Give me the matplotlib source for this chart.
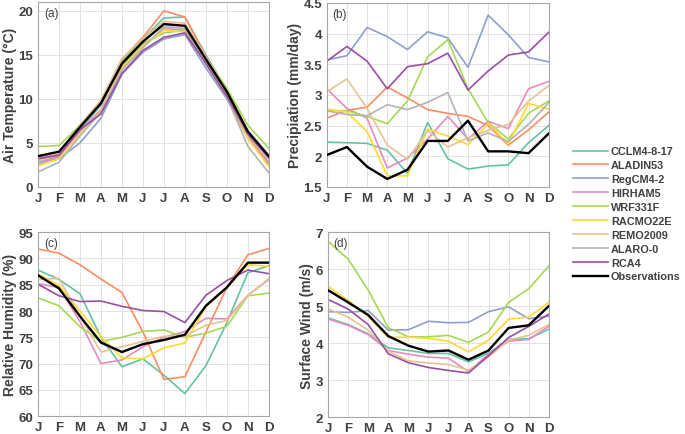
import matplotlib
matplotlib.use('Agg')
import matplotlib.pyplot as plt
import numpy as np

plt.rcParams['font.family'] = ['Liberation Sans', 'DejaVu Sans']

months = ['J', 'F', 'M', 'A', 'M', 'J', 'J', 'A', 'S', 'O', 'N', 'D']
models = ['CCLM4-8-17', 'ALADIN53', 'RegCM4-2', 'HIRHAM5', 'WRF331F',
          'RACMO22E', 'REMO2009', 'ALARO-0', 'RCA4', 'Observations']
colors = ['#66c2a5', '#fc8d62', '#8da0cb', '#e78ac3', '#a6d854',
          '#ffd92f', '#e5c494', '#b3b3b3', '#984ea3', 'black']

# (a) air temperature
temp = {
    'CCLM4-8-17': [3.0, 3.4, 6.5, 9.3, 14.2, 16.8, 19.2, 19.3, 15.0, 11.0, 6.2, 3.2],
    'ALADIN53': [3.3, 3.7, 7.0, 9.8, 14.5, 17.0, 20.0, 19.3, 14.8, 10.8, 6.0, 3.0],
    'RegCM4-2': [2.8, 3.2, 5.0, 7.8, 12.8, 15.3, 16.8, 17.3, 13.5, 10.0, 5.5, 2.8],
    'HIRHAM5': [2.5, 3.5, 6.3, 8.8, 13.5, 16.0, 18.0, 17.8, 14.0, 10.3, 5.8, 2.5],
    'WRF331F': [4.6, 4.7, 7.0, 9.6, 13.8, 16.3, 17.5, 17.8, 14.6, 11.2, 7.0, 4.4],
    'RACMO22E': [2.4, 3.2, 6.0, 8.6, 13.5, 16.0, 17.8, 17.6, 14.2, 10.5, 5.5, 2.3],
    'REMO2009': [3.0, 3.6, 7.0, 9.8, 14.6, 16.8, 18.8, 18.6, 14.8, 10.8, 6.0, 3.0],
    'ALARO-0': [1.7, 2.8, 5.8, 8.5, 13.3, 15.8, 18.2, 18.0, 14.0, 10.2, 4.6, 1.6],
    'RCA4': [3.2, 3.6, 6.5, 8.3, 12.9, 15.5, 17.0, 17.5, 14.0, 10.3, 6.0, 3.3],
    'Observations': [3.5, 4.0, 6.8, 9.5, 14.0, 16.5, 18.5, 18.3, 14.5, 10.8, 6.3, 3.5],
}

# (b) precipitation
prec = {
    'CCLM4-8-17': [2.23, 2.22, 2.21, 2.10, 1.72, 2.55, 1.96, 1.79, 1.84, 1.86, 2.22, 2.50],
    'ALADIN53': [2.62, 2.75, 2.80, 3.13, 2.95, 2.76, 2.70, 2.65, 2.50, 2.18, 2.43, 2.72],
    'RegCM4-2': [3.57, 3.64, 4.10, 3.95, 3.74, 4.03, 3.93, 3.45, 4.30, 3.98, 3.61, 3.54],
    'HIRHAM5': [3.10, 2.78, 2.62, 1.81, 1.97, 2.28, 2.65, 2.28, 2.57, 2.45, 3.10, 3.22],
    'WRF331F': [2.75, 2.74, 2.65, 2.53, 2.90, 3.62, 3.90, 3.10, 2.55, 2.28, 2.70, 2.90],
    'RACMO22E': [2.77, 2.72, 2.40, 1.68, 1.68, 2.44, 2.33, 2.19, 2.53, 2.20, 2.86, 2.77],
    'REMO2009': [3.05, 3.26, 2.78, 2.18, 1.95, 2.42, 2.15, 2.30, 2.42, 2.52, 2.90, 3.15],
    'ALARO-0': [2.74, 2.68, 2.66, 2.84, 2.76, 2.88, 3.04, 2.25, 2.38, 2.24, 2.52, 2.87],
    'RCA4': [3.55, 3.79, 3.55, 3.10, 3.46, 3.51, 3.68, 3.08, 3.39, 3.65, 3.70, 4.02],
    'Observations': [2.02, 2.15, 1.83, 1.63, 1.78, 2.25, 2.25, 2.58, 2.08, 2.08, 2.05, 2.37],
}

# (c) relative humidity
rhum = {
    'CCLM4-8-17': [87.8, 86.0, 83.3, 75.0, 69.4, 70.9, 67.8, 64.3, 69.6, 77.8, 87.3, 88.6],
    'ALADIN53': [91.8, 91.0, 88.8, 86.1, 83.5, 76.0, 67.0, 67.5, 76.0, 84.5, 90.7, 91.9],
    'HIRHAM5': [85.2, 84.5, 78.0, 70.0, 70.7, 73.2, 75.0, 76.1, 78.6, 78.5, 83.0, 86.0],
    'WRF331F': [82.5, 81.0, 77.0, 74.2, 75.0, 76.1, 76.4, 75.0, 75.8, 77.1, 82.9, 83.4],
    'RACMO22E': [87.0, 84.9, 80.0, 75.1, 71.1, 70.9, 73.0, 73.9, 80.8, 84.5, 88.8, 88.5],
    'REMO2009': [86.0, 86.2, 79.0, 72.2, 73.2, 74.2, 75.2, 75.2, 77.3, 78.2, 82.9, 86.2],
    'RCA4': [85.1, 82.9, 81.8, 81.9, 80.9, 80.1, 79.9, 77.8, 83.0, 85.8, 87.8, 87.1],
    'Observations': [86.8, 84.3, 79.0, 74.0, 72.2, 73.7, 74.5, 75.5, 81.0, 84.5, 89.2, 89.2],
}

# (d) surface wind
wind = {
    'CCLM4-8-17': [4.68, 4.50, 4.25, 3.87, 3.80, 3.72, 3.72, 3.49, 3.73, 4.10, 4.12, 4.37],
    'RegCM4-2': [4.85, 4.83, 4.88, 4.35, 4.36, 4.59, 4.55, 4.56, 4.85, 4.98, 4.66, 4.73],
    'HIRHAM5': [4.65, 4.48, 4.23, 3.80, 3.70, 3.62, 3.59, 3.23, 3.70, 4.05, 4.10, 4.45],
    'WRF331F': [6.75, 6.27, 5.43, 4.42, 4.17, 4.17, 4.21, 4.02, 4.30, 5.10, 5.47, 6.08],
    'RACMO22E': [5.53, 5.15, 4.73, 4.15, 4.16, 4.13, 4.05, 3.76, 4.08, 4.65, 4.70, 5.10],
    'REMO2009': [4.93, 4.70, 4.35, 3.78, 3.52, 3.46, 3.42, 3.27, 3.62, 4.08, 4.21, 4.50],
    'RCA4': [5.18, 4.92, 4.50, 3.71, 3.47, 3.34, 3.26, 3.19, 3.66, 4.15, 4.45, 4.78],
    'Observations': [5.43, 5.10, 4.76, 4.19, 3.93, 3.77, 3.80, 3.55, 3.80, 4.41, 4.48, 5.00],
}

panels = [
    (temp, 'Air Temperature (°C)', (0, 21), [0, 5, 10, 15, 20], '(a)', [0.0555, 0.568, 0.337, 0.425]),
    (prec, 'Precipiation (mm/day)', (1.5, 4.5), [1.5, 2, 2.5, 3, 3.5, 4, 4.5], '(b)', [0.477, 0.568, 0.324, 0.423]),
    (rhum, 'Relative Humidity (%)', (60, 95), [60, 65, 70, 75, 80, 85, 90, 95], '(c)', [0.0555, 0.041, 0.337, 0.423]),
    (wind, 'Surface Wind (m/s)', (2, 7), [2, 3, 4, 5, 6, 7], '(d)', [0.479, 0.039, 0.322, 0.425]),
]

fig = plt.figure(figsize=(6.85, 4.35), dpi=100)
x = np.arange(12)
tc = '#404040'
for data, ylab, ylim, yt, tag, rect in panels:
    ax = fig.add_axes(rect)
    for name, col in zip(models, colors):
        if name in data:
            lw = 1.7 if name == 'Observations' else 1.2
            ax.plot(x, data[name], color=col, lw=lw, zorder=3 if name == 'Observations' else 2)
    ax.set_xlim(0, 11)
    ax.set_ylim(*ylim)
    ax.set_yticks(yt)
    ax.set_yticklabels([('%g' % v) for v in yt])
    ax.set_xticks(x)
    ax.set_xticklabels(months)
    ax.grid(True, color='#e3e3e3', lw=0.7)
    ax.tick_params(length=0, labelsize=9.5, colors=tc, pad=3.5)
    for lab in ax.get_xticklabels() + ax.get_yticklabels():
        lab.set_fontweight('bold')
    for s in ax.spines.values():
        s.set_color('#a6a6a6')
        s.set_linewidth(0.8)
    ax.set_ylabel(ylab, fontsize=10, fontweight='bold', color=tc, labelpad=1)
    ax.text(0.025, 0.975, tag, transform=ax.transAxes, ha='left', va='top',
            fontsize=8.5, color=tc)

handles = [plt.Line2D([], [], color=c, lw=1.7 if n == 'Observations' else 1.2)
           for n, c in zip(models, colors)]
leg = fig.legend(handles, models, loc='center left', bbox_to_anchor=(0.829, 0.506),
                 frameon=False, prop={'weight': 'bold', 'size': 7.8},
                 handlelength=3.2, handletextpad=0.26, labelspacing=0.36, borderpad=0)
for t in leg.get_texts():
    t.set_color(tc)

fig.savefig('out.png', dpi=100)
